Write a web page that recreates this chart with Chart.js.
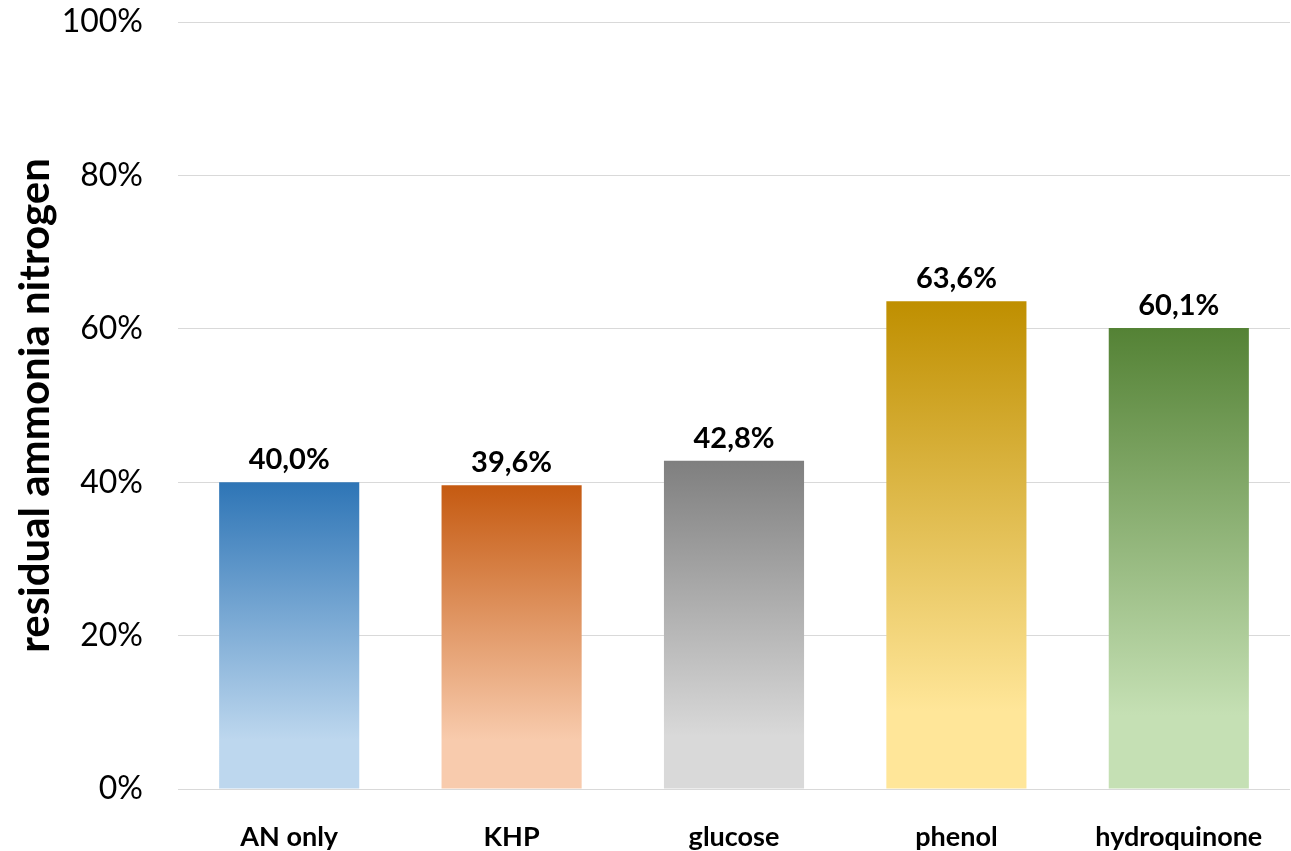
<!DOCTYPE html>
<html>
<head>
<meta charset="utf-8">
<script src="https://cdn.jsdelivr.net/npm/chart.js@4"></script>
<style>
  html, body { margin: 0; padding: 0; background: #fff; }
  #wrap { width: 1291px; height: 851px; position: relative; }
</style>
</head>
<body>
<div id="wrap"><canvas id="barChart"></canvas></div>
<script>
const categories = ["AN only", "KHP", "glucose", "phenol", "hydroquinone"];
const residual = [40.0, 39.6, 42.8, 63.6, 60.1];
const topColors = ["#2E75B6", "#C55A11", "#7F7F7F", "#BF8F00", "#548235"];
const bottomColors = ["#BDD7EE", "#F8CBAD", "#D9D9D9", "#FFE699", "#C5E0B4"];
const yTicks = [0, 20, 40, 60, 80, 100];

const FONT = "Lato, 'Noto Sans', sans-serif";

function barGradient(context) {
  const chart = context.chart;
  const area = chart.chartArea;
  const i = context.dataIndex;
  if (!area || context.type !== "data") return topColors[i];
  const yScale = chart.scales.y;
  const top = yScale.getPixelForValue(residual[i]);
  const bottom = yScale.getPixelForValue(0);
  const g = chart.ctx.createLinearGradient(0, top, 0, bottom);
  g.addColorStop(0, topColors[i]);
  g.addColorStop(0.84, bottomColors[i]);
  g.addColorStop(1, bottomColors[i]);
  return g;
}

// value labels above each bar, comma decimals
const valueLabels = {
  id: "valueLabels",
  afterDatasetsDraw(chart) {
    const ctx = chart.ctx;
    const meta = chart.getDatasetMeta(0);
    ctx.save();
    ctx.font = "bold 29px " + FONT;
    ctx.fillStyle = "#000";
    ctx.textAlign = "center";
    ctx.textBaseline = "bottom";
    meta.data.forEach(function (bar, i) {
      const txt = residual[i].toFixed(1).replace(".", ",") + "%";
      ctx.fillText(txt, bar.x, bar.y - 8);
    });
    ctx.restore();
  }
};

new Chart(document.getElementById("barChart"), {
  type: "bar",
  data: {
    labels: categories,
    datasets: [{
      label: "residual ammonia nitrogen",
      data: residual,
      backgroundColor: barGradient,
      borderWidth: 0,
      barPercentage: 0.63,
      categoryPercentage: 1.0
    }]
  },
  options: {
    responsive: true,
    maintainAspectRatio: false,
    animation: false,
    layout: { padding: { top: 0, right: 1, left: 0, bottom: 0 } },
    plugins: {
      legend: { display: false },
      tooltip: { enabled: false }
    },
    scales: {
      x: {
        grid: { display: false },
        border: { display: false },
        afterFit(axis) { axis.height = 62; },
        ticks: {
          color: "#000",
          font: { family: FONT, size: 27, weight: "bold" },
          padding: 24
        }
      },
      y: {
        min: 0,
        max: 100,
        afterBuildTicks(axis) {
          axis.ticks = yTicks.map(v => ({ value: v }));
        },
        afterFit(axis) {
          axis.width = 178;
          axis.paddingTop = 22;
          axis.paddingBottom = 0;
        },
        grid: { color: "#D9D9D9", lineWidth: 1, drawTicks: false },
        border: { display: false },
        ticks: {
          color: "#000",
          font: { family: FONT, size: 32 },
          padding: 35,
          callback: v => v + "%"
        },
        title: {
          display: true,
          text: "residual ammonia nitrogen",
          color: "#000",
          font: { family: FONT, size: 42, weight: "bold" },
          padding: { top: 10, bottom: 0 }
        }
      }
    }
  },
  plugins: [valueLabels]
});
</script>
</body>
</html>
